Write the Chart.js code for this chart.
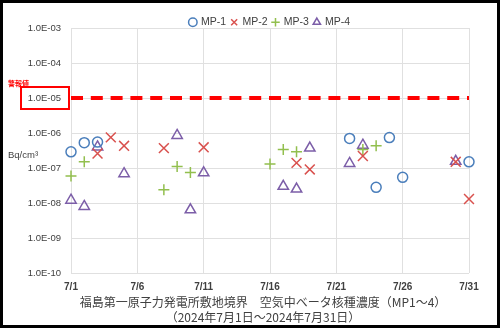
<!DOCTYPE html>
<html>
<head>
<meta charset="utf-8">
<script src="https://cdn.jsdelivr.net/npm/chart.js@4.4.1/dist/chart.umd.min.js"></script>
<style>
  html, body { margin: 0; padding: 0; background: #fff; }
  #wrap { width: 500px; height: 328px; position: relative; }
</style>
</head>
<body>
<div id="wrap"><canvas id="betaChart"></canvas></div>
<script>
// 日付（7月の日）と濃度 Bq/cm3
const xTicks = [1, 6, 11, 16, 21, 26, 31]
const xTickLabels = ['7/1', '7/6', '7/11', '7/16', '7/21', '7/26', '7/31']
const yTicks = [1e-3, 1e-4, 1e-5, 1e-6, 1e-7, 1e-8, 1e-9, 1e-10]
const alarmLevel = 1e-5

const mp1Days = [1, 2, 3, 22, 24, 25, 26, 31]
const mp1Values = [2.9e-7, 5.3e-7, 5.5e-7, 7.0e-7, 2.8e-8, 7.4e-7, 5.4e-8, 1.5e-7]

const mp2Days = [3, 4, 5, 8, 11, 18, 19, 23, 30, 31]
const mp2Values = [2.6e-7, 7.5e-7, 4.3e-7, 3.7e-7, 3.9e-7, 1.4e-7, 9.1e-8, 2.2e-7, 1.5e-7, 1.3e-8]

const mp3Days = [1, 2, 8, 9, 10, 16, 17, 18, 23, 24]
const mp3Values = [5.9e-8, 1.5e-7, 2.4e-8, 1.1e-7, 7.4e-8, 1.3e-7, 3.4e-7, 2.9e-7, 3.4e-7, 4.3e-7]

const mp4Days = [1, 2, 3, 5, 9, 10, 11, 17, 18, 19, 22, 23, 30]
const mp4Values = [1.2e-8, 8.0e-9, 4.0e-7, 6.9e-8, 8.5e-7, 6.4e-9, 7.3e-8, 3.0e-8, 2.5e-8, 3.7e-7, 1.35e-7, 4.5e-7, 1.55e-7]

const titleLines = [
  '福島第一原子力発電所敷地境界　空気中ベータ核種濃度（MP1～4）',
  '（2024年7月1日～2024年7月31日）',
]

function toPoints(days, values) {
  return days.map((d, i) => ({ x: d, y: values[i] }))
}

function formatExp(v) {
  const e = Math.round(Math.log10(v))
  return '1.0E-' + String(-e).padStart(2, '0')
}

function markerSet(label, days, values, style, color, radius) {
  return {
    label: label,
    data: toPoints(days, values),
    clip: false,
    pointStyle: style,
    pointRadius: radius,
    pointHoverRadius: radius,
    pointBorderWidth: 1.5,
    borderColor: color,
    backgroundColor: 'transparent',
    pointBorderColor: color,
    pointBackgroundColor: 'transparent',
  }
}

const decorations = {
  id: 'decorations',
  beforeDraw(chart) {
    const ctx = chart.ctx
    ctx.save()
    ctx.fillStyle = '#fff'
    ctx.fillRect(0, 0, chart.width, chart.height)
    ctx.restore()
  },
  afterDraw(chart) {
    const ctx = chart.ctx
    const area = chart.chartArea
    const alarmY = chart.scales.y.getPixelForValue(alarmLevel)
    ctx.save()

    // 警報値ラベルの枠
    ctx.strokeStyle = '#ff0000'
    ctx.lineWidth = 2
    ctx.strokeRect(21, alarmY - 11, area.left - 23, 22)
    ctx.fillStyle = '#ff0000'
    ctx.font = 'bold 7px "Noto Sans CJK JP"'
    ctx.textAlign = 'left'
    ctx.textBaseline = 'middle'
    ctx.fillText('警報値', 8, alarmY - 15)

    // 単位
    ctx.fillStyle = '#404040'
    ctx.font = '9.5px "Liberation Sans"'
    ctx.fillText('Bq/cm³', 8, 155)

    // 表題
    ctx.textAlign = 'center'
    ctx.font = '12px "Noto Sans CJK JP"'
    ctx.fillText(titleLines[0], 263, 302)
    ctx.fillText(titleLines[1], 263, 317)

    // 外枠
    ctx.strokeStyle = '#000'
    ctx.lineWidth = 3
    ctx.strokeRect(1.5, 1.5, chart.width - 3, chart.height - 3)
    ctx.restore()
  },
}

const ctx = document.getElementById('betaChart').getContext('2d')
const chart = new Chart(ctx, {
  type: 'scatter',
  data: {
    datasets: [
      markerSet('MP-1', mp1Days, mp1Values, 'circle', '#4a7ebb', 5),
      markerSet('MP-2', mp2Days, mp2Values, 'crossRot', '#d9514e', 7),
      markerSet('MP-3', mp3Days, mp3Values, 'cross', '#92bf4e', 5.5),
      markerSet('MP-4', mp4Days, mp4Values, 'triangle', '#7c5ea8', 6),
      {
        type: 'line',
        label: '警報値',
        data: [
          { x: xTicks[0], y: alarmLevel },
          { x: xTicks[xTicks.length - 1], y: alarmLevel },
        ],
        showLine: true,
        borderColor: '#ff0000',
        borderWidth: 4,
        borderDash: [12, 7.8],
        pointRadius: 0,
        fill: false,
      },
    ],
  },
  options: {
    responsive: true,
    maintainAspectRatio: false,
    animation: false,
    layout: {
      padding: { top: 12, right: 31, bottom: 0, left: 0 },
    },
    plugins: {
      tooltip: { enabled: false },
      legend: {
        position: 'top',
        fullSize: false,
        maxHeight: 16,
        labels: {
          usePointStyle: true,
          boxWidth: 6,
          boxHeight: 6,
          padding: 5,
          color: '#404040',
          font: { family: '"Liberation Sans"', size: 10.5 },
          filter: item => item.datasetIndex < 4,
        },
      },
    },
    scales: {
      x: {
        type: 'linear',
        min: xTicks[0],
        max: xTicks[xTicks.length - 1],
        afterBuildTicks: scale => {
          scale.ticks = xTicks.map(v => ({ value: v }))
        },
        afterFit: scale => {
          scale.height = 55
        },
        grid: { color: '#e0e0e0', drawTicks: false },
        border: { display: false },
        ticks: {
          padding: 8,
          color: '#404040',
          maxRotation: 0,
          font: { family: '"Liberation Sans"', size: 10, weight: 'bold' },
          callback: v => xTickLabels[xTicks.indexOf(v)],
        },
      },
      y: {
        type: 'logarithmic',
        min: yTicks[yTicks.length - 1],
        max: yTicks[0],
        afterBuildTicks: scale => {
          scale.ticks = yTicks.map(v => ({ value: v }))
        },
        afterFit: scale => {
          scale.width = 71
        },
        grid: { color: '#e0e0e0', drawTicks: false },
        border: { display: false },
        ticks: {
          padding: 10,
          color: '#404040',
          font: { family: '"Liberation Sans"', size: 9.5 },
          callback: v => formatExp(v),
        },
      },
    },
  },
  plugins: [decorations],
})
</script>
</body>
</html>
